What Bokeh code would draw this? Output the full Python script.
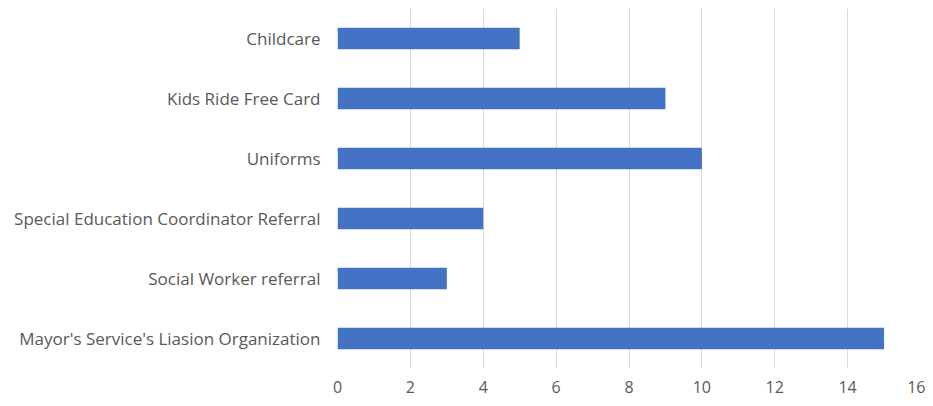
from bokeh.plotting import figure
from bokeh.models import ColumnDataSource, FixedTicker, Range1d
from bokeh.embed import file_html
from bokeh.resources import INLINE

categories = [
    "Mayor's Service's Liasion Organization",
    "Social Worker referral",
    "Special Education Coordinator Referral",
    "Uniforms",
    "Kids Ride Free Card",
    "Childcare",
]
values = [15, 3, 4, 10, 9, 5]
x_ticks = [0, 2, 4, 6, 8, 10, 12, 14, 16]

src = ColumnDataSource(dict(cat=categories, val=values))

p = figure(
    y_range=categories,
    x_range=Range1d(0, 16),
    width=925, height=402,
    output_backend="svg", toolbar_location=None,
    min_border_left=337, min_border_right=5,
    min_border_top=8, min_border_bottom=34,
)
p.hbar(y="cat", right="val", left=0, height=0.36, source=src,
       fill_color="#4472C4", line_color=None)

p.outline_line_color = None
p.background_fill_color = "white"
p.border_fill_color = "white"

p.xaxis.ticker = FixedTicker(ticks=x_ticks)
p.xgrid.grid_line_color = "#d9d9d9"
p.xgrid.grid_line_width = 1
p.ygrid.grid_line_color = None

for ax in (p.xaxis[0], p.yaxis[0]):
    ax.axis_line_color = None
    ax.major_tick_line_color = None
    ax.minor_tick_line_color = None
    ax.major_tick_out = 0
    ax.major_tick_in = 0
    ax.major_label_text_font = "Open Sans"
    ax.major_label_text_color = "#595959"

p.yaxis.major_label_text_font_size = "17px"
p.xaxis.major_label_text_font_size = "16px"
p.yaxis.major_label_standoff = 17
p.xaxis.major_label_standoff = 12
p.y_range.range_padding = 0

open("out.html", "w").write(file_html(p, INLINE))
